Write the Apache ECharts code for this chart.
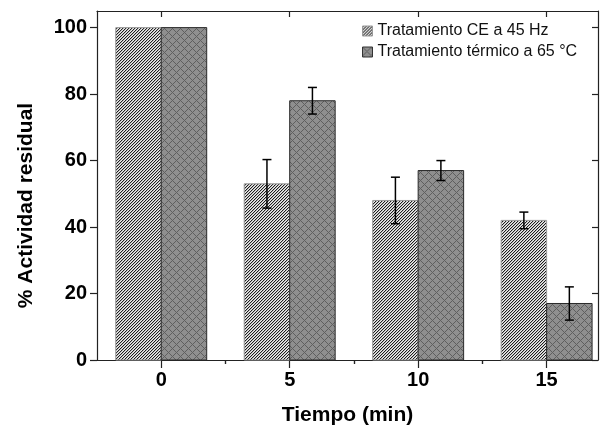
<!DOCTYPE html>
<html>
<head>
    <meta charset="utf-8">
    <script src="https://cdn.jsdelivr.net/npm/echarts@6/dist/echarts.min.js"></script>
</head>
<body style="margin:0">
    <div id="container" style="width:601px;height:433px"></div>
    <script type="text/javascript">
        // data
        var times = [0, 5, 10, 15];
        var ceValues = [100, 53, 48, 42];
        var ceErrors = [0, 7.3, 7, 2.5];
        var thermalValues = [100, 78, 57, 17];
        var thermalErrors = [0, 4, 3, 5];
        var seriesNames = ['Tratamiento CE a 45 Hz', 'Tratamiento térmico a 65 °C'];
        var xMajorTicks = [0, 5, 10, 15];
        var xMinorTicks = [2.5, 7.5, 12.5];
        var yMajorTicks = [0, 20, 40, 60, 80, 100];
        var yMinorTicks = [10, 30, 50, 70, 90];

        var font = 'Liberation Sans';
        var axisColor = '#222';
        var barUnits = 1.77;

        function makePattern(size, paint) {
            var c = document.createElement('canvas');
            c.width = c.height = size;
            var ctx = c.getContext('2d');
            var img = ctx.createImageData(size, size);
            for (var y = 0; y < size; y++) {
                for (var x = 0; x < size; x++) {
                    var v = paint(x, y), k = (y * size + x) * 4;
                    img.data[k] = img.data[k + 1] = img.data[k + 2] = v;
                    img.data[k + 3] = 255;
                }
            }
            ctx.putImageData(img, 0, 0);
            return { image: c, repeat: 'repeat' };
        }
        var hatch = makePattern(3, function (x, y) {
            var m = (x + y) % 3;
            return m === 0 ? 30 : (m === 1 ? 185 : 238);
        });
        var cross = makePattern(8, function (x, y) {
            return ((x + y) % 8 === 0 || (x - y + 8) % 8 === 0) ? 95 : 143;
        });

        function barRenderer(left, fill, stroke) {
            return function (params, api) {
                var x = api.value(0), y = api.value(1);
                var p0 = api.coord([left ? x - barUnits : x, y]);
                var p1 = api.coord([left ? x : x + barUnits, 0]);
                return {
                    type: 'rect',
                    shape: { x: p0[0], y: p0[1], width: p1[0] - p0[0], height: p1[1] - p0[1] },
                    style: { fill: fill, stroke: stroke, lineWidth: 1 }
                };
            };
        }

        function errRenderer(left) {
            return function (params, api) {
                var x = api.value(0) + (left ? -barUnits / 2 : barUnits / 2);
                var y = api.value(1), e = api.value(2);
                if (!e) return null;
                var top = api.coord([x, y + e]), bot = api.coord([x, y - e]);
                var w = 4.5, st = { stroke: '#000', lineWidth: 1.5 };
                return {
                    type: 'group',
                    children: [
                        { type: 'line', shape: { x1: top[0], y1: top[1], x2: bot[0], y2: bot[1] }, style: st },
                        { type: 'line', shape: { x1: top[0] - w, y1: top[1], x2: top[0] + w, y2: top[1] }, style: st },
                        { type: 'line', shape: { x1: bot[0] - w, y1: bot[1], x2: bot[0] + w, y2: bot[1] }, style: st }
                    ]
                };
            };
        }

        function xAxisDef(pos, ticks, len, inside, extra) {
            var a = {
                type: 'value', min: -2.5, max: 17, position: pos,
                axisLine: { show: true, onZero: false, lineStyle: { color: axisColor, width: 1.2 } },
                axisTick: { customValues: ticks, length: len, inside: inside, lineStyle: { color: axisColor, width: 1.2 } },
                axisLabel: { show: false },
                splitLine: { show: false }
            };
            return Object.assign(a, extra || {});
        }
        function yAxisDef(pos, ticks, len, inside, extra) {
            var a = {
                type: 'value', min: 0, max: 105, position: pos,
                axisLine: { show: true, onZero: false, lineStyle: { color: axisColor, width: 1.2 } },
                axisTick: { customValues: ticks, length: len, inside: inside, lineStyle: { color: axisColor, width: 1.2 } },
                axisLabel: { show: false },
                splitLine: { show: false }
            };
            return Object.assign(a, extra || {});
        }

        var labelStyle = { show: true, fontFamily: font, fontSize: 20, fontWeight: 'bold', color: '#000' };
        var nameStyle = { fontFamily: font, fontSize: 21, fontWeight: 'bold', color: '#000' };

        var myChart = echarts.init(document.getElementById('container'));
        var option = {
            animation: false,
            grid: { left: 97, right: 3, top: 11, bottom: 73 },
            legend: {
                orient: 'vertical', left: 357, top: 18,
                itemWidth: 10, itemHeight: 10, itemGap: 5,
                textStyle: { fontFamily: font, fontSize: 16, color: '#111' },
                data: [
                    { name: seriesNames[0], icon: 'rect', itemStyle: { color: hatch, borderColor: '#999', borderWidth: 1 } },
                    { name: seriesNames[1], icon: 'rect', itemStyle: { color: cross, borderColor: '#333', borderWidth: 1 } }
                ]
            },
            xAxis: [
                xAxisDef('bottom', xMajorTicks, 8, false, {
                    axisLabel: Object.assign({ customValues: xMajorTicks, margin: 10 }, labelStyle),
                    name: 'Tiempo (min)', nameLocation: 'middle', nameGap: 45, nameTextStyle: nameStyle
                }),
                xAxisDef('bottom', xMinorTicks, 4, false, { axisLine: { show: false } }),
                xAxisDef('top', xMajorTicks, 6, true),
                xAxisDef('top', xMinorTicks, 4, true, { axisLine: { show: false } })
            ],
            yAxis: [
                yAxisDef('left', yMajorTicks, 7, false, {
                    axisLabel: Object.assign({ customValues: yMajorTicks, margin: 10 }, labelStyle),
                    name: '% Actividad residual', nameLocation: 'middle', nameGap: 60,
                    nameTextStyle: Object.assign({ padding: [0, 40, 0, 0] }, nameStyle)
                }),
                yAxisDef('left', yMinorTicks, 4, false, { axisLine: { show: false } }),
                yAxisDef('right', yMajorTicks, 6, true),
                yAxisDef('right', yMinorTicks, 4, true, { axisLine: { show: false } })
            ],
            series: [
                {
                    name: seriesNames[0], type: 'custom', z: 2,
                    itemStyle: { color: hatch, borderColor: '#999' },
                    renderItem: barRenderer(true, hatch, '#9a9a9a'),
                    data: times.map(function (t, i) { return [t, ceValues[i]]; })
                },
                {
                    name: seriesNames[1], type: 'custom', z: 3,
                    itemStyle: { color: cross, borderColor: '#333' },
                    renderItem: barRenderer(false, cross, '#2a2a2a'),
                    data: times.map(function (t, i) { return [t, thermalValues[i]]; })
                },
                {
                    type: 'custom', z: 5,
                    renderItem: errRenderer(true),
                    data: times.map(function (t, i) { return [t, ceValues[i], ceErrors[i]]; })
                },
                {
                    type: 'custom', z: 5,
                    renderItem: errRenderer(false),
                    data: times.map(function (t, i) { return [t, thermalValues[i], thermalErrors[i]]; })
                }
            ]
        };
        myChart.setOption(option);
    </script>
</body>
</html>
